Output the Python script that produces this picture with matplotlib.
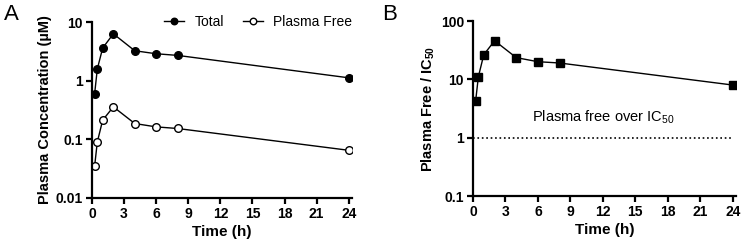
import matplotlib.pyplot as plt
from matplotlib.ticker import FixedLocator, NullLocator

plt.rcParams["font.family"] = ["Liberation Sans", "DejaVu Sans"]
plt.rcParams["mathtext.fontset"] = "custom"
plt.rcParams["mathtext.rm"] = "Liberation Sans"
plt.rcParams["mathtext.bf"] = "Liberation Sans:bold"
plt.rcParams["mathtext.default"] = "regular"

# time points (h)
time_h = [0.25, 0.5, 1, 2, 4, 6, 8, 24]

# panel A: plasma concentration (uM)
total = [0.6, 1.58, 3.6, 6.3, 3.24, 2.88, 2.7, 1.12]
plasma_free = [0.035, 0.09, 0.212, 0.358, 0.186, 0.163, 0.153, 0.065]

# panel B: plasma free / IC50
free_over_ic50 = [4.3, 11.1, 26.5, 46, 23.6, 20.1, 19.1, 8.0]

x_ticks = [0, 3, 6, 9, 12, 15, 18, 21, 24]
a_ticks = [0.01, 0.1, 1, 10]
a_labels = ["0.01", "0.1", "1", "10"]
b_ticks = [0.1, 1, 10, 100]
b_labels = ["0.1", "1", "10", "100"]

fig = plt.figure(figsize=(7.44, 2.45), dpi=100)
ax_a = fig.add_axes([0.1236, 0.192, 0.3494, 0.718])
ax_b = fig.add_axes([0.6357, 0.2, 0.3535, 0.714])


def style(ax):
    for side in ("top", "right"):
        ax.spines[side].set_visible(False)
    for side in ("left", "bottom"):
        ax.spines[side].set_linewidth(1.6)
    ax.tick_params(width=1.6, length=4, labelsize=10, pad=2.5)
    ax.yaxis.set_minor_locator(NullLocator())
    for lab in ax.get_xticklabels() + ax.get_yticklabels():
        lab.set_fontweight("bold")


# panel A
ax_a.plot(time_h, total, "-o", color="black", lw=1, ms=5.5,
          mfc="black", mec="black", label="Total")
ax_a.plot(time_h, plasma_free, "-o", color="black", lw=1, ms=5.5,
          mfc="white", mec="black", mew=1, label="Plasma Free")
ax_a.set_yscale("log")
ax_a.set_xlim(0, 24.3)
ax_a.set_ylim(0.01, 10)
ax_a.set_xticks(x_ticks)
ax_a.yaxis.set_major_locator(FixedLocator(a_ticks))
ax_a.set_yticklabels(a_labels)
ax_a.set_xlabel("Time (h)", fontsize=11, fontweight="bold", labelpad=3)
ax_a.set_ylabel("Plasma Concentration (µM)", fontsize=10.5,
                fontweight="bold", labelpad=3)
style(ax_a)
ax_a.legend(loc="center right", ncol=2, frameon=False, fontsize=10,
            handlelength=1.44, columnspacing=1.37, handletextpad=0.72,
            markerscale=0.85, bbox_to_anchor=(1.0, 1.0),
            borderaxespad=0, borderpad=0)

# panel B
ax_b.plot(time_h, free_over_ic50, "-s", color="black", lw=1, ms=5.5,
          mfc="black", mec="black")
ax_b.plot([0, 24], [1, 1], ":", color="black", lw=1.2)
ax_b.text(12, 2.2, "Plasma free over IC$_{50}$", ha="center", va="center",
          fontsize=10.5)
ax_b.set_yscale("log")
ax_b.set_xlim(0, 24.3)
ax_b.set_ylim(0.1, 100)
ax_b.set_xticks(x_ticks)
ax_b.yaxis.set_major_locator(FixedLocator(b_ticks))
ax_b.set_yticklabels(b_labels)
ax_b.set_xlabel("Time (h)", fontsize=11, fontweight="bold", labelpad=3)
ax_b.set_ylabel(r"Plasma Free / IC$_{\mathbf{50}}$", fontsize=10.5,
                fontweight="bold", labelpad=3)
style(ax_b)

fig.text(0.005, 0.985, "A", fontsize=16, va="top", ha="left")
fig.text(0.513, 0.985, "B", fontsize=16, va="top", ha="left")

fig.savefig("out.png", dpi=100)
